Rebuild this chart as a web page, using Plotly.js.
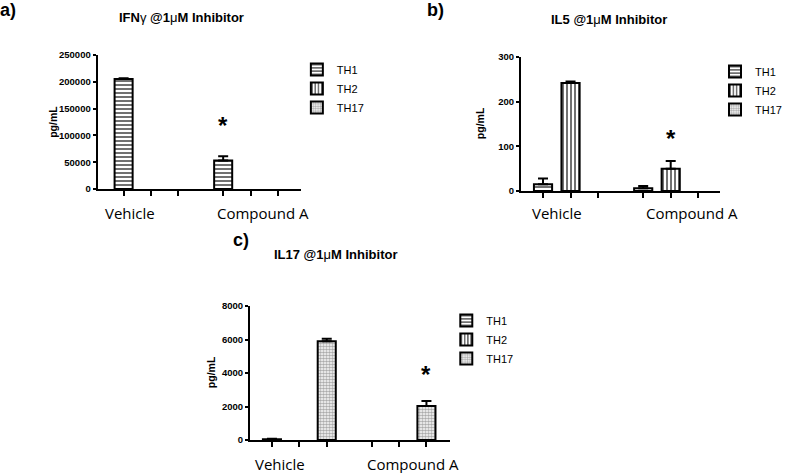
<!DOCTYPE html>
<html>
<head>
<meta charset="utf-8">
<script src="https://cdn.plot.ly/plotly-3.0.1.min.js"></script>
<style>
  html, body { margin: 0; padding: 0; background: #fff; }
  #chart { width: 787px; height: 473px; }
</style>
</head>
<body>
<div id="chart"></div>
<script>
// Groups and series
const groups = ['Vehicle', 'Compound A'];
const series = ['TH1', 'TH2', 'TH17'];

// Mean values per panel (null = no bar)
const ifnTH1 = [205000, 53000];
const ifnTH2 = [null, null];
const ifnTH17 = [null, null];
const ifnErrTH1 = [1500, 8000];
const ifnErrTH2 = [null, null];
const ifnErrTH17 = [null, null];

const il5TH1 = [15, 6];
const il5TH2 = [242, 50];
const il5TH17 = [null, null];
const il5ErrTH1 = [13, 5];
const il5ErrTH2 = [3, 17];
const il5ErrTH17 = [null, null];

const il17TH1 = [50, null];
const il17TH2 = [null, null];
const il17TH17 = [5900, 2030];
const il17ErrTH1 = [30, null];
const il17ErrTH2 = [null, null];
const il17ErrTH17 = [150, 300];

// Significance stars: [group index, series index, y]
const ifnStar = [1, 0, 119000];
const il5Star = [1, 1, 118];
const il17Star = [1, 2, 3900];

// slot layout: series sit one unit apart, groups separated by a wider gap
const groupStart = [0, 3.64];
const slotX = (g, s) => groupStart[g] + s;

const patterns = {
  TH1: { shape: '-', size: 4, solidity: 0.35, fgcolor: '#333', bgcolor: '#fff' },
  TH2: { shape: '|', size: 4, solidity: 0.35, fgcolor: '#333', bgcolor: '#fff' },
  TH17: { shape: '.', size: 3, solidity: 0.55, fgcolor: '#aaa', bgcolor: '#fff' }
};

const traces = [];
function addPanel(idx, vals, errs) {
  const sfx = idx === 1 ? '' : String(idx);
  series.forEach((name, s) => {
    traces.push({
      type: 'bar',
      name: name,
      x: groups.map((_, g) => slotX(g, s)),
      y: vals[s],
      width: 0.66,
      xaxis: 'x' + sfx,
      yaxis: 'y' + sfx,
      legend: 'legend' + sfx,
      showlegend: true,
      marker: { color: '#fff', line: { color: '#000', width: 2 }, pattern: patterns[name] },
      error_y: {
        type: 'data', symmetric: false,
        array: errs[s], arrayminus: errs[s].map(() => 0),
        color: '#000', thickness: 2, width: 5
      },
      hoverinfo: 'skip'
    });
  });
}
addPanel(1, [ifnTH1, ifnTH2, ifnTH17], [ifnErrTH1, ifnErrTH2, ifnErrTH17]);
addPanel(2, [il5TH1, il5TH2, il5TH17], [il5ErrTH1, il5ErrTH2, il5ErrTH17]);
addPanel(3, [il17TH1, il17TH2, il17TH17], [il17ErrTH1, il17ErrTH2, il17ErrTH17]);

const tickFont = { family: 'Liberation Sans, Arial', size: 9.5, color: '#000', weight: 'bold' };
const ytitleFont = { family: 'Liberation Sans, Arial', size: 10.5, color: '#000', weight: 'bold' };
const allSlots = [0, 1, 2].map(s => slotX(0, s)).concat([0, 1, 2].map(s => slotX(1, s)));

function xAxis(domain, range, anchor) {
  return {
    domain: domain, range: range, anchor: anchor, showgrid: false, zeroline: false,
    showline: true, linecolor: '#000', linewidth: 2,
    tickmode: 'array', tickvals: allSlots, ticktext: allSlots.map(() => ''),
    ticks: 'outside', ticklen: 5, tickwidth: 2, tickcolor: '#000', fixedrange: true
  };
}
function yAxis(domain, range, dtick, anchor) {
  return {
    domain: domain, range: range, dtick: dtick, anchor: anchor, showgrid: false, zeroline: false,
    showline: true, linecolor: '#000', linewidth: 2,
    ticks: 'outside', ticklen: 3, tickwidth: 2, tickcolor: '#000',
    tickfont: tickFont, tickformat: 'd', fixedrange: true
  };
}

const legendBase = {
  xanchor: 'left', yanchor: 'top', bgcolor: 'rgba(0,0,0,0)',
  font: { family: 'Liberation Sans, Arial', size: 11, color: '#000' },
  itemwidth: 30, tracegroupgap: 0
};

const catFont = { family: 'Open Sans', size: 15, color: '#000' };
const titleFont = { family: 'Liberation Sans, Arial', size: 13, color: '#000', weight: 'bold' };
const panelFont = { family: 'Liberation Sans, Arial', size: 18, color: '#000', weight: 'bold' };
const starFont = { family: 'Liberation Sans, Arial', size: 24, color: '#000', weight: 'bold' };

// category label offsets within each panel (slot units)
const catPos = [[0.22, 5.09], [0.5, 5.42], [0.29, 5.16]];
const catY = [213, 213, 464];
const titles = [
  'IFN<span style="font-weight:normal">γ</span> @1<span style="font-weight:normal">μ</span>M Inhibitor',
  'IL5 @1<span style="font-weight:normal">μ</span>M Inhibitor',
  'IL17 @1<span style="font-weight:normal">μ</span>M Inhibitor'
];
const titlePos = [[182, 18], [611, 19], [337, 254]];
const ytitlePos = [[53, 122], [482, 123], [212, 372]];
const panelLabels = ['a)', 'b)', 'c)'];
const panelPos = [[8, 10], [437, 10], [242, 240]];
const stars = [ifnStar, il5Star, il17Star];

const W = 787, H = 473;
const annotations = [];
[0, 1, 2].forEach(p => {
  const sfx = p === 0 ? '' : String(p + 1);
  groups.forEach((gname, g) => {
    annotations.push({
      text: gname, xref: 'x' + sfx, yref: 'paper', x: catPos[p][g], y: 1 - catY[p] / H,
      showarrow: false, font: catFont, xanchor: 'center', yanchor: 'middle'
    });
  });
  annotations.push({
    text: titles[p], xref: 'paper', yref: 'paper', x: titlePos[p][0] / W, y: 1 - titlePos[p][1] / H,
    showarrow: false, font: titleFont, xanchor: 'center', yanchor: 'middle'
  });
  annotations.push({
    text: 'pg/mL', xref: 'paper', yref: 'paper', x: ytitlePos[p][0] / W, y: 1 - ytitlePos[p][1] / H,
    showarrow: false, font: ytitleFont, textangle: -90, xanchor: 'center', yanchor: 'middle'
  });
  annotations.push({
    text: panelLabels[p], xref: 'paper', yref: 'paper', x: panelPos[p][0] / W, y: 1 - panelPos[p][1] / H,
    showarrow: false, font: panelFont, xanchor: 'center', yanchor: 'middle'
  });
  const st = stars[p];
  annotations.push({
    text: '*', xref: 'x' + sfx, yref: 'y' + sfx, x: slotX(st[0], st[1]), y: st[2],
    showarrow: false, font: starFont, xanchor: 'center', yanchor: 'middle'
  });
});

const layout = {
  width: W, height: H,
  margin: { l: 0, r: 0, t: 0, b: 0 },
  paper_bgcolor: '#fff', plot_bgcolor: '#fff',
  barmode: 'overlay',
  showlegend: true,
  xaxis: xAxis([98 / W, 302 / W], [-0.95, 6.48], 'y'),
  yaxis: yAxis([1 - 189 / H, 1 - 55 / H], [0, 250000], 50000, 'x'),
  xaxis2: xAxis([523 / W, 723 / W], [-0.8, 6.44], 'y2'),
  yaxis2: yAxis([1 - 191 / H, 1 - 57 / H], [0, 300], 100, 'x2'),
  xaxis3: xAxis([251 / W, 452 / W], [-0.8, 6.51], 'y3'),
  yaxis3: yAxis([1 - 440 / H, 1 - 306 / H], [0, 8000], 2000, 'x3'),
  legend: Object.assign({ x: 298 / W, y: 1 - 55 / H }, legendBase),
  legend2: Object.assign({ x: 718 / W, y: 1 - 57 / H }, legendBase),
  legend3: Object.assign({ x: 448 / W, y: 1 - 306 / H }, legendBase),
  annotations: annotations
};

Plotly.newPlot('chart', traces, layout, { staticPlot: true, displayModeBar: false });
</script>
</body>
</html>
